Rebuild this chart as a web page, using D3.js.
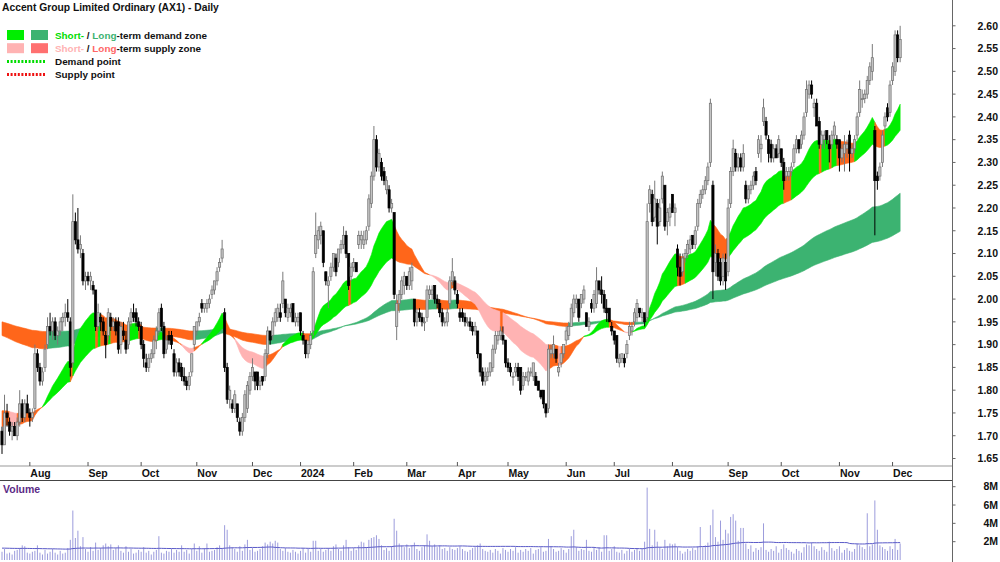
<!DOCTYPE html>
<html><head><meta charset="utf-8">
<script src="https://cdn.jsdelivr.net/npm/d3@7"></script>
<style>body{margin:0;background:#fff}svg{display:block;font-family:"Liberation Sans",Arial,sans-serif}</style>
</head><body><svg id="c" width="1000" height="562"></svg>
<script>
// ---- DATA ----
const title = "Accent Group Limited Ordinary (AX1) - Daily";
// daily candles [open, high, low, close], 17 Jul 2023 .. 5 Dec 2024
const candles = [
[1.71,1.72,1.66,1.68],[1.68,1.79,1.68,1.75],[1.75,1.77,1.72,1.74],[1.73,1.74,1.70,1.71],[1.71,1.73,1.69,1.72],[1.72,1.73,1.70,1.70],[1.70,1.74,1.69,1.73],[1.73,1.80,1.72,1.77],[1.77,1.78,1.73,1.74],[1.74,1.78,1.73,1.77],
[1.77,1.79,1.75,1.75],[1.75,1.76,1.72,1.74],[1.74,1.76,1.73,1.75],[1.76,1.90,1.75,1.88],[1.88,1.89,1.84,1.85],[1.85,1.86,1.81,1.82],[1.82,1.85,1.81,1.84],[1.85,1.90,1.84,1.89],[1.90,1.96,1.89,1.94],[1.94,1.97,1.92,1.93],
[1.93,1.96,1.91,1.95],[1.95,1.96,1.91,1.92],[1.92,1.94,1.90,1.93],[1.93,1.96,1.92,1.95],[1.95,1.97,1.93,1.96],[1.96,1.99,1.94,1.97],[1.97,2.00,1.95,1.96],[1.95,1.96,1.83,1.85],[1.86,2.23,1.85,2.17],[2.17,2.19,2.12,2.13],
[2.13,2.20,2.10,2.11],[2.11,2.14,2.09,2.12],[2.10,2.11,2.03,2.04],[2.04,2.06,2.02,2.05],[2.05,2.06,2.03,2.04],[2.04,2.06,2.02,2.05],[2.03,2.04,2.01,2.02],[2.02,2.02,1.93,1.94],[1.94,1.99,1.93,1.97],[1.96,1.97,1.93,1.95],
[1.95,1.96,1.92,1.93],[1.92,1.93,1.87,1.90],[1.92,1.98,1.91,1.97],[1.96,1.97,1.93,1.94],[1.94,1.96,1.93,1.95],[1.95,1.96,1.92,1.93],[1.95,1.96,1.88,1.89],[1.90,1.95,1.88,1.94],[1.93,1.95,1.91,1.92],[1.91,1.93,1.88,1.89],
[1.90,1.96,1.89,1.95],[1.95,1.98,1.94,1.97],[1.97,1.99,1.95,1.96],[1.97,1.98,1.94,1.95],[1.95,1.96,1.93,1.94],[1.94,1.95,1.89,1.90],[1.90,1.91,1.85,1.87],[1.86,1.88,1.84,1.85],[1.85,1.88,1.84,1.87],[1.87,1.89,1.86,1.88],
[1.88,1.92,1.87,1.91],[1.91,1.94,1.89,1.93],[1.93,1.98,1.92,1.97],[1.98,1.99,1.93,1.94],[1.94,1.95,1.87,1.88],[1.89,1.92,1.88,1.91],[1.92,1.93,1.90,1.91],[1.92,1.93,1.89,1.90],[1.88,1.89,1.83,1.84],[1.84,1.87,1.83,1.86],
[1.86,1.87,1.83,1.84],[1.85,1.86,1.82,1.83],[1.83,1.85,1.81,1.82],[1.82,1.83,1.80,1.81],[1.81,1.84,1.80,1.83],[1.84,1.88,1.83,1.88],[1.90,1.94,1.89,1.94],[1.93,1.95,1.92,1.95],[1.95,1.97,1.94,1.96],[1.99,2.00,1.97,1.98],
[1.98,1.99,1.97,1.99],[1.98,2.00,1.97,1.99],[1.99,2.01,1.98,2.00],[2.01,2.03,2.00,2.02],[2.02,2.04,2.01,2.04],[2.04,2.07,2.03,2.06],[2.07,2.09,2.06,2.08],[2.09,2.13,2.08,2.11],[1.97,1.98,1.84,1.85],[1.85,1.86,1.77,1.78],
[1.78,1.81,1.76,1.80],[1.77,1.78,1.75,1.76],[1.76,1.80,1.75,1.79],[1.77,1.77,1.73,1.74],[1.73,1.74,1.70,1.71],[1.71,1.75,1.70,1.74],[1.74,1.80,1.73,1.79],[1.76,1.82,1.75,1.81],[1.80,1.84,1.79,1.83],[1.83,1.87,1.82,1.85],
[1.84,1.84,1.80,1.82],[1.84,1.84,1.80,1.81],[1.81,1.83,1.80,1.82],[1.83,1.83,1.81,1.82],[1.83,1.89,1.82,1.88],[1.88,1.94,1.87,1.93],[1.93,1.93,1.90,1.91],[1.92,1.96,1.91,1.95],[1.95,1.98,1.94,1.97],[1.96,1.99,1.95,1.98],
[1.97,1.99,1.95,1.96],[1.99,2.06,1.98,2.04],[2.00,2.00,1.96,1.97],[1.96,1.99,1.95,1.98],[1.97,1.99,1.96,1.98],[1.99,1.99,1.95,1.95],[1.95,1.97,1.94,1.96],[1.95,1.97,1.94,1.96],[1.97,1.97,1.92,1.93],[1.92,1.93,1.90,1.91],
[1.91,1.91,1.87,1.88],[1.88,1.91,1.87,1.90],[1.90,1.93,1.89,1.92],[1.93,2.07,1.92,2.06],[2.10,2.19,2.09,2.14],[2.13,2.16,2.11,2.15],[2.14,2.17,2.12,2.16],[2.15,2.15,2.07,2.08],[2.06,2.06,2.03,2.04],[2.03,2.05,1.98,2.04],
[2.05,2.08,2.04,2.07],[2.07,2.10,2.06,2.10],[2.09,2.10,2.05,2.06],[2.08,2.11,2.07,2.11],[2.11,2.13,2.10,2.12],[2.12,2.16,2.11,2.14],[2.14,2.15,2.09,2.10],[2.10,2.10,2.02,2.03],[2.05,2.08,2.04,2.07],[2.07,2.09,2.06,2.08],
[2.08,2.08,2.06,2.06],[2.12,2.15,2.11,2.14],[2.13,2.15,2.11,2.14],[2.12,2.15,2.11,2.13],[2.13,2.16,2.12,2.15],[2.16,2.23,2.15,2.22],[2.21,2.28,2.20,2.27],[2.27,2.38,2.26,2.35],[2.35,2.36,2.28,2.29],[2.29,2.33,2.28,2.32],
[2.30,2.31,2.26,2.27],[2.28,2.29,2.25,2.26],[2.24,2.27,2.23,2.26],[2.24,2.25,2.19,2.20],[2.20,2.22,2.19,2.21],[2.19,2.19,2.00,2.01],[1.94,2.01,1.91,1.99],[1.99,2.02,1.97,2.01],[2.01,2.05,2.00,2.04],[2.03,2.06,2.01,2.05],
[2.05,2.05,2.02,2.03],[2.03,2.07,2.02,2.06],[2.04,2.08,2.02,2.07],[2.00,2.00,1.94,1.95],[1.95,1.98,1.94,1.97],[1.97,1.98,1.95,1.96],[1.96,1.97,1.94,1.95],[1.95,1.96,1.93,1.95],[1.96,2.03,1.95,2.02],[2.01,2.03,2.00,2.02],
[2.01,2.03,2.00,2.02],[2.03,2.03,1.99,2.00],[2.00,2.01,1.98,1.99],[1.99,2.00,1.96,1.97],[1.97,1.98,1.94,1.95],[1.95,1.96,1.94,1.95],[1.95,1.98,1.94,1.97],[1.99,2.05,1.98,2.04],[2.04,2.09,2.03,2.06],[2.04,2.05,2.01,2.02],
[2.01,2.02,1.98,1.99],[1.97,1.98,1.95,1.96],[1.97,1.98,1.95,1.96],[1.96,1.97,1.94,1.95],[1.95,1.96,1.94,1.95],[1.95,1.96,1.93,1.94],[1.94,1.95,1.92,1.93],[1.93,1.95,1.92,1.94],[1.93,1.93,1.87,1.88],[1.88,1.88,1.83,1.84],
[1.84,1.85,1.81,1.82],[1.82,1.85,1.81,1.83],[1.83,1.85,1.82,1.84],[1.84,1.86,1.83,1.86],[1.85,1.90,1.84,1.89],[1.89,1.93,1.88,1.92],[1.91,1.93,1.90,1.92],[1.92,1.94,1.91,1.93],[1.92,1.94,1.90,1.91],[1.91,1.91,1.85,1.86],
[1.86,1.87,1.84,1.85],[1.85,1.86,1.83,1.84],[1.83,1.84,1.81,1.83],[1.84,1.86,1.83,1.85],[1.85,1.86,1.82,1.83],[1.85,1.85,1.79,1.80],[1.81,1.84,1.80,1.83],[1.83,1.84,1.82,1.83],[1.82,1.85,1.81,1.84],[1.84,1.85,1.83,1.84],
[1.83,1.86,1.82,1.86],[1.83,1.84,1.81,1.81],[1.82,1.82,1.80,1.80],[1.80,1.80,1.78,1.785],[1.80,1.80,1.76,1.77],[1.77,1.77,1.74,1.75],[1.76,1.90,1.75,1.89],[1.88,1.90,1.87,1.89],[1.88,1.92,1.87,1.90],[1.89,1.89,1.86,1.87],
[1.84,1.86,1.83,1.85],[1.86,1.88,1.85,1.88],[1.88,1.90,1.87,1.90],[1.91,1.94,1.90,1.93],[1.92,1.95,1.91,1.94],[1.94,1.99,1.94,1.98],[1.97,2.01,1.96,2.00],[1.99,2.01,1.98,2.00],[2.00,2.00,1.95,1.96],[1.99,2.01,1.98,2.01],
[2.00,2.03,1.99,2.02],[1.97,1.97,1.94,1.94],[1.94,1.96,1.93,1.95],[1.99,2.00,1.97,1.98],[1.98,2.02,1.97,2.01],[1.99,2.07,1.98,2.04],[2.04,2.04,2.01,2.02],[2.02,2.05,1.99,2.01],[2.01,2.02,1.97,1.98],[1.98,2.00,1.95,1.97],
[1.98,1.98,1.95,1.95],[1.94,1.95,1.92,1.93],[1.93,1.93,1.90,1.91],[1.92,1.92,1.86,1.87],[1.86,1.88,1.85,1.87],[1.87,1.88,1.86,1.88],[1.87,1.88,1.85,1.86],[1.88,1.91,1.87,1.90],[1.92,1.95,1.91,1.94],[1.93,1.95,1.92,1.94],
[1.95,1.98,1.94,1.97],[1.96,2.00,1.95,1.99],[1.98,1.98,1.96,1.97],[1.96,1.98,1.95,1.97],[1.97,1.97,1.94,1.95],[1.96,2.21,1.95,2.17],[2.21,2.25,2.19,2.24],[2.23,2.24,2.16,2.17],[2.18,2.26,2.17,2.22],[2.21,2.22,2.12,2.16],
[2.17,2.22,2.16,2.20],[2.22,2.28,2.21,2.27],[2.25,2.25,2.15,2.16],[2.17,2.20,2.14,2.19],[2.18,2.21,2.16,2.20],[2.23,2.23,2.19,2.19],[2.19,2.21,2.16,2.20],[2.11,2.12,2.05,2.07],[2.07,2.10,2.03,2.05],[2.06,2.10,2.05,2.09],
[2.09,2.11,2.08,2.10],[2.10,2.13,2.09,2.12],[2.11,2.14,2.10,2.13],[2.14,2.14,2.11,2.12],[2.12,2.16,2.11,2.15],[2.16,2.22,2.15,2.21],[2.21,2.24,2.20,2.23],[2.23,2.25,2.22,2.24],[2.24,2.27,2.23,2.26],[2.26,2.30,2.25,2.29],
[2.30,2.44,2.29,2.43],[2.25,2.26,2.00,2.06],[2.08,2.12,2.05,2.10],[2.10,2.11,2.04,2.05],[2.08,2.09,2.03,2.04],[2.05,2.10,2.03,2.09],[2.08,2.10,2.02,2.04],[2.06,2.22,2.05,2.20],[2.21,2.29,2.20,2.28],[2.28,2.35,2.27,2.33],
[2.32,2.33,2.28,2.29],[2.29,2.32,2.28,2.31],[2.31,2.32,2.28,2.29],[2.29,2.34,2.28,2.32],[2.25,2.26,2.21,2.22],[2.22,2.25,2.21,2.24],[2.24,2.26,2.23,2.25],[2.25,2.28,2.24,2.27],[2.28,2.29,2.25,2.26],[2.32,2.36,2.31,2.35],
[2.33,2.36,2.30,2.34],[2.39,2.44,2.38,2.42],[2.39,2.40,2.35,2.36],[2.35,2.36,2.30,2.32],[2.34,2.35,2.30,2.31],[2.31,2.34,2.30,2.33],[2.33,2.34,2.31,2.31],[2.32,2.36,2.31,2.35],[2.33,2.33,2.29,2.30],[2.30,2.31,2.24,2.26],
[2.27,2.29,2.26,2.28],[2.27,2.29,2.26,2.28],[2.28,2.30,2.27,2.29],[2.30,2.34,2.29,2.33],[2.33,2.36,2.32,2.35],[2.35,2.35,2.32,2.33],[2.34,2.37,2.33,2.36],[2.36,2.41,2.35,2.40],[2.41,2.48,2.40,2.46],[2.45,2.48,2.44,2.47],
[2.47,2.48,2.44,2.45],[2.42,2.44,2.40,2.43],[2.43,2.44,2.38,2.38],[2.39,2.40,2.33,2.34],[2.34,2.37,2.33,2.36],[2.35,2.37,2.33,2.36],[2.37,2.37,2.34,2.35],[2.34,2.36,2.30,2.33],[2.34,2.37,2.33,2.36],[2.36,2.39,2.35,2.38],
[2.35,2.36,2.33,2.34],[2.35,2.35,2.28,2.31],[2.31,2.34,2.30,2.33],[2.32,2.36,2.28,2.34],[2.33,2.35,2.31,2.34],[2.36,2.37,2.28,2.32],[2.32,2.34,2.31,2.33],[2.33,2.36,2.32,2.35],[2.36,2.41,2.35,2.40],[2.41,2.48,2.40,2.46],
[2.44,2.46,2.42,2.44],[2.44,2.46,2.43,2.45],[2.45,2.49,2.44,2.48],[2.48,2.52,2.47,2.51],[2.50,2.56,2.48,2.53],[2.37,2.38,2.14,2.26],[2.27,2.28,2.24,2.26],[2.27,2.30,2.26,2.29],[2.30,2.37,2.29,2.36],[2.38,2.41,2.37,2.40],
[2.42,2.43,2.39,2.40],[2.41,2.48,2.40,2.47],[2.48,2.52,2.47,2.51],[2.50,2.59,2.49,2.58],[2.58,2.59,2.52,2.53],[2.53,2.60,2.52,2.57]
];
// daily volume, millions of shares
const volumes = [
0.9,1.2,0.7,0.8,0.6,1.0,1.1,1.3,1.6,1.5,0.8,0.7,
0.9,1.0,1.6,0.8,0.6,1.1,0.7,0.9,1.2,0.8,0.6,1.0,0.7,0.8,1.3,2.2,
5.4,2.4,3.2,1.5,2.5,1.2,0.9,1.4,1.0,1.9,1.1,1.3,1.6,
1.8,1.5,1.7,1.1,1.3,1.6,1.0,0.8,1.5,0.9,1.2,0.7,0.8,1.1,0.9,
1.4,0.8,1.0,0.6,0.9,1.1,2.6,0.8,0.7,1.0,0.9,1.2,0.8,1.1,0.9,
1.6,0.9,1.1,0.7,1.2,1.8,1.0,1.5,0.8,1.3,1.8,0.9,1.0,1.1,1.4,1.6,1.2,
3.8,3.3,1.6,1.4,1.2,0.9,1.5,1.0,1.7,2.2,1.1,1.3,0.9,
1.0,1.2,1.5,1.9,1.7,2.0,1.8,2.1,1.9,1.2,1.0,1.3,0.9,0.8,1.1,
0.9,0.7,1.0,1.3,0.8,1.2,0.9,2.1,2.1,1.0,1.2,0.9,1.1,1.3,1.0,
1.5,1.7,1.2,1.0,1.6,2.2,1.4,1.0,1.3,1.1,1.6,2.0,1.9,1.4,2.2,2.4,
2.5,2.7,2.3,1.6,1.1,1.3,1.0,1.5,4.5,3.2,1.8,1.6,1.4,1.7,
1.3,1.6,1.9,1.2,1.0,1.4,1.6,2.8,2.1,1.5,1.7,1.4,1.6,1.2,1.3,
1.0,1.4,1.2,1.1,1.3,1.5,1.2,1.0,0.9,1.1,1.3,1.4,1.6,1.8,1.2,
1.0,0.9,1.1,0.8,1.2,1.0,0.7,1.3,1.1,0.9,1.2,1.0,1.4,0.8,1.1,
0.9,1.2,1.0,1.3,0.7,1.1,1.2,1.4,0.9,1.0,2.3,1.5,1.2,0.9,1.0,
1.3,1.1,0.8,1.2,2.6,3.3,1.4,1.0,1.2,1.1,2.2,1.0,0.9,1.3,1.1,
1.4,0.9,2.7,2.7,1.0,1.2,1.5,0.9,0.8,1.1,0.7,1.0,1.2,0.9,1.1,
1.3,1.0,1.2,2.0,7.9,3.4,1.6,3.3,2.0,1.4,1.2,2.2,1.5,1.8,1.7,
1.8,1.4,1.0,0.7,0.9,1.2,1.0,1.3,1.1,1.5,3.6,1.4,1.6,1.9,3.8,
5.5,2.5,2.0,4.3,2.2,3.3,2.9,4.7,5.0,4.3,2.1,3.5,3.5,1.8,1.2,
1.6,0.9,1.3,1.1,1.4,4.0,1.1,0.9,1.2,1.0,1.5,0.8,1.2,1.7,1.3,
1.1,0.9,0.7,1.2,1.0,0.8,1.4,1.7,1.6,1.9,1.5,1.2,1.0,1.4,1.1,
0.9,2.0,1.3,1.0,1.2,1.5,0.8,1.1,1.3,1.0,0.9,1.2,1.8,1.6,1.4,
1.2,5.1,1.5,1.7,6.5,3.3,1.6,1.4,1.2,1.0,1.5,1.2,2.3,1.1,1.8
];
const monthLabels = ["Aug","Sep","Oct","Nov","Dec","2024","Feb","Mar","Apr","May","Jun","Jul","Aug","Sep","Oct","Nov","Dec"];
const monthStarts = [11,34,55,77,99,118,139,160,180,200,223,242,265,287,308,331,352];
const priceTicks = [1.65,1.70,1.75,1.80,1.85,1.90,1.95,2.00,2.05,2.10,2.15,2.20,2.25,2.30,2.35,2.40,2.45,2.50,2.55,2.60];
const volumeTicks = [2,4,6,8];
const volumeTickLabels = ["2M","4M","6M","8M"];
// zone EMA periods [short fast, short slow, long fast, long slow] and starting levels
const zonePeriods = [25, 55, 150, 260];
const zoneStart = [1.72, 1.755, 1.92, 1.95];
const volumeAvgWindow = 80;
const volumeAvgStart = 1.3;
const legendRows = [
  {kind:"zone", c1:"#00ee00", c2:"#3cb371", t1:"Short-", t1c:"#00dd00", t2:"Long", t2c:"#3cb371", rest:"-term demand zone"},
  {kind:"zone", c1:"#ffb3b3", c2:"#ff7070", t1:"Short-", t1c:"#ffb3b3", t2:"Long", t2c:"#ff6666", rest:"-term supply zone"},
  {kind:"line", c1:"#00dd00", text:"Demand point"},
  {kind:"line", c1:"#ee1111", text:"Supply point"}
];

// ---- CHART ----
const svg = d3.select("#c");
const N = candles.length;
const closes = candles.map(d => d[3]);
const x = d3.scaleLinear().domain([0, N-1]).range([2, 2 + (N-1)*2.53]);
const y = d3.scaleLinear().domain([1.65, 2.60]).range([458.5, 25.8]);
const yv = d3.scaleLinear().domain([0, 8]).range([560, 486.7]);
const AX = 952.5;

function ema(vals, n, seed){
  const a = 2/(n+1); const out=[]; let e=seed;
  vals.forEach((v,i)=>{ e = i===0 ? seed : e + a*(v-e); out.push(e); });
  return out;
}
const sf = ema(closes, zonePeriods[0], zoneStart[0]);
const ss = ema(closes, zonePeriods[1], zoneStart[1]);
const lf = ema(closes, zonePeriods[2], zoneStart[2]);
const ls = ema(closes, zonePeriods[3], zoneStart[3]);

const GREEN="#00ee00", DKGREEN="#3cb371", ORANGE="#ff661a", PINK="#ffb3b3";
function rising(arr,i){ return i===0 ? arr[1]>=arr[0] : arr[i]>=arr[i-1]; }
const shortCol = d3.range(N).map(i=>{
  const r = rising(sf,i);
  if (sf[i]>=ss[i] && r) return GREEN;
  if (sf[i]<ss[i] && !r) return PINK;
  return ORANGE;
});
const longCol = d3.range(N).map(i=> rising(lf,i) ? DKGREEN : ORANGE);

function drawBand(a, b, cols){
  const g = svg.append("g");
  let s = 0;
  for (let i=1;i<=N;i++){
    if (i===N || cols[i]!==cols[s]){
      const idx = d3.range(s, Math.min(i+1, N));
      if (idx.length===1) idx.push(Math.min(s+1,N-1));
      const area = d3.area().x(j=>x(j)).y0(j=>y(a[j])).y1(j=>y(b[j]));
      g.append("path").attr("d", area(idx)).attr("fill", cols[s]).attr("stroke", cols[s]).attr("stroke-width",0.6);
      s = i;
    }
  }
}
drawBand(lf, ls, longCol);
drawBand(sf, ss, shortCol);

// candles
const cg = svg.append("g");
candles.forEach((d,i)=>{
  const [o,h,l,c] = d; const up = c>=o; const cx = x(i);
  cg.append("line").attr("x1",cx).attr("x2",cx).attr("y1",y(h)).attr("y2",y(l))
    .attr("stroke", up?"#7a7a7a":"#000").attr("stroke-width",1);
  const top = y(Math.max(o,c)), bot = y(Math.min(o,c));
  cg.append("rect").attr("x",cx-1.1).attr("width",2.2).attr("y",top).attr("height",Math.max(1,bot-top))
    .attr("fill", up?"#c4c4c4":"#000").attr("stroke", up?"#707070":"#000").attr("stroke-width",0.7);
});

// frames
svg.append("line").attr("x1",0).attr("x2",AX).attr("y1",466).attr("y2",466).attr("stroke","#999");
svg.append("line").attr("x1",0).attr("x2",AX).attr("y1",480.5).attr("y2",480.5).attr("stroke","#444");
svg.append("line").attr("x1",AX).attr("x2",AX).attr("y1",0).attr("y2",562).attr("stroke","#666");

// price axis
const pa = svg.append("g");
priceTicks.forEach(t=>{
  pa.append("line").attr("x1",AX).attr("x2",AX+3).attr("y1",y(t)).attr("y2",y(t)).attr("stroke","#666");
  pa.append("text").attr("x",998).attr("y",y(t)).attr("dy","0.36em").attr("text-anchor","end")
    .attr("font-size","10.5px").attr("font-weight","bold").attr("fill","#111").text(t.toFixed(2));
});
// months
monthStarts.forEach((m,k)=>{
  const tx = x(m);
  svg.append("line").attr("x1",tx).attr("x2",tx).attr("y1",462).attr("y2",466).attr("stroke","#555");
  svg.append("text").attr("x",tx+0.5).attr("y",477).attr("font-size","10.5px").attr("font-weight","bold").attr("fill","#111").text(monthLabels[k]);
});

// volume
const vg = svg.append("g");
volumes.forEach((v,i)=>{
  vg.append("line").attr("x1",x(i)).attr("x2",x(i)).attr("y1",yv(0)).attr("y2",yv(v)).attr("stroke","#9c9cdc").attr("stroke-width",1);
});
const vma = volumes.map((v,i)=>{
  let s=0; for(let k=i-volumeAvgWindow+1;k<=i;k++) s += k<0 ? volumeAvgStart : volumes[k];
  return s/volumeAvgWindow;
});
svg.append("path").attr("d", d3.line().x((d,i)=>x(i)).y(d=>yv(d))(vma)).attr("fill","none").attr("stroke","#5a5ac8").attr("stroke-width",1);
volumeTicks.forEach((t,k)=>{
  svg.append("line").attr("x1",AX).attr("x2",AX+3).attr("y1",yv(t)).attr("y2",yv(t)).attr("stroke","#666");
  svg.append("text").attr("x",998).attr("y",yv(t)).attr("dy","0.36em").attr("text-anchor","end")
    .attr("font-size","10.5px").attr("font-weight","bold").attr("fill","#111").text(volumeTickLabels[k]);
});
svg.append("text").attr("x",3).attr("y",493).attr("font-size","10.5px").attr("font-weight","bold").attr("fill","#5b2a86").text("Volume");

// title & legend
svg.append("text").attr("x",2).attr("y",11).attr("font-size","10.3px").attr("font-weight","bold").attr("fill","#111").text(title);
const lg = svg.append("g");
legendRows.forEach((r,k)=>{
  const cy = 35 + k*13.2;
  if (r.kind==="zone"){
    lg.append("rect").attr("x",7).attr("y",cy-5).attr("width",17).attr("height",10).attr("fill",r.c1);
    lg.append("rect").attr("x",31).attr("y",cy-5).attr("width",17).attr("height",10).attr("fill",r.c2);
    const t = lg.append("text").attr("x",55).attr("y",cy).attr("dy","0.36em").attr("font-size","9.9px").attr("font-weight","bold");
    t.append("tspan").attr("fill",r.t1c).text(r.t1);
    t.append("tspan").attr("fill","#111").text(" / ");
    t.append("tspan").attr("fill",r.t2c).text(r.t2);
    t.append("tspan").attr("fill","#111").text(r.rest);
  } else {
    lg.append("line").attr("x1",7).attr("x2",45).attr("y1",cy).attr("y2",cy).attr("stroke",r.c1).attr("stroke-width",3).attr("stroke-dasharray","2,1.6");
    lg.append("text").attr("x",55).attr("y",cy).attr("dy","0.36em").attr("font-size","9.9px").attr("font-weight","bold").attr("fill","#111").text(r.text);
  }
});
</script></body></html>
